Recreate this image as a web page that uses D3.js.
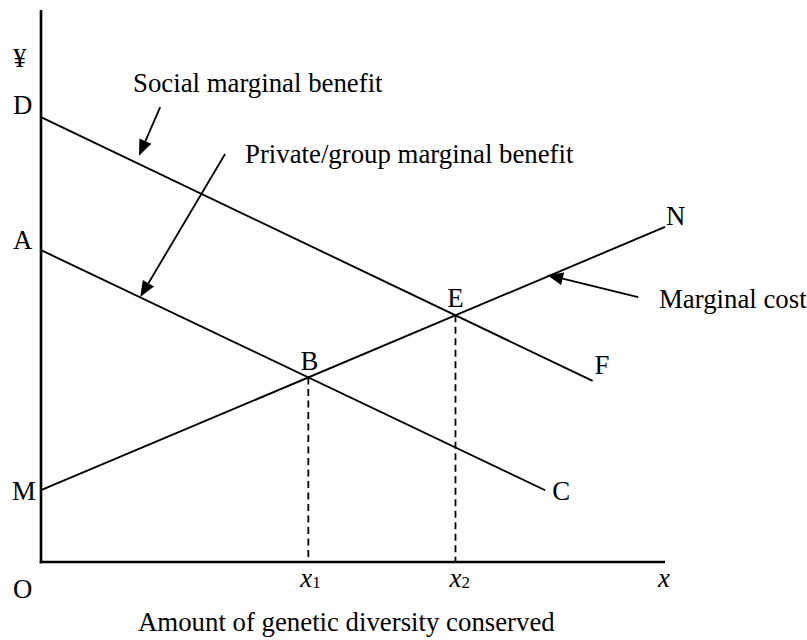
<!DOCTYPE html>
<html>
<head>
<meta charset="utf-8">
<script src="https://cdn.jsdelivr.net/npm/d3@7"></script>
<style>
  body { margin: 0; background: #fff; }
  svg text { font-family: "Liberation Serif", "Times New Roman", serif; fill: #000; }
  .ax { stroke: #000; stroke-width: 2.6; }
  .curve { stroke: #000; stroke-width: 1.9; fill: none; }
  .drop { stroke: #000; stroke-width: 1.8; stroke-dasharray: 7 4.5; }
  .arrow { stroke: #000; stroke-width: 1.8; fill: none; }
</style>
</head>
<body>
<svg class="econ-svg"></svg>
<script>

// curves: [x, y] at start and end, in chart units (0..10 both ways)
const socialMB = [[0, 8.06], [8.84, 3.28]]
const privateMB = [[0, 5.65], [8.08, 1.30]]
const marginalCost = [[0, 1.30], [10, 6.07]]

// pointer arrows: tail -> tip, chart units
const pointerArrows = [
    [[1.91, 8.24], [1.57, 7.36]],
    [[2.95, 7.39], [1.59, 4.80]],
    [[9.57, 4.80], [8.11, 5.20]]
]

const xDomain = [0, 10]
const yDomain = [0, 10]

const draw = () => {

    const width = 807
    const height = 640

    const svg = d3
        .select('.econ-svg')
        .attr('width', width)
        .attr('height', height)

    const x = d3.scaleLinear().domain(xDomain).range([41, 665])
    const y = d3.scaleLinear().domain(yDomain).range([562, 10])

    const line = d3.line().x(d => x(d[0])).y(d => y(d[1]))

    // axes
    svg.append('line').attr('class', 'ax')
        .attr('x1', x(0)).attr('x2', x(0))
        .attr('y1', y(0) + 1.3).attr('y2', y(yDomain[1]))
    svg.append('line').attr('class', 'ax')
        .attr('x1', x(0) - 1.3).attr('x2', x(xDomain[1]))
        .attr('y1', y(0)).attr('y2', y(0))

    // intersection of two straight curves
    const meet = (a, b) => {
        const sa = (a[1][1] - a[0][1]) / (a[1][0] - a[0][0])
        const sb = (b[1][1] - b[0][1]) / (b[1][0] - b[0][0])
        const ia = a[0][1] - sa * a[0][0]
        const ib = b[0][1] - sb * b[0][0]
        const px = (ib - ia) / (sa - sb)
        return [px, ia + sa * px]
    }

    const ptB = meet(privateMB, marginalCost)
    const ptE = meet(socialMB, marginalCost)

    // dashed drop lines
    svg.selectAll('blah')
        .data([ptB, ptE])
        .enter()
        .append('line')
        .attr('class', 'drop')
        .attr('x1', d => x(d[0])).attr('x2', d => x(d[0]))
        .attr('y1', d => y(d[1])).attr('y2', y(0))

    svg.selectAll('blah')
        .data([socialMB, privateMB, marginalCost])
        .enter()
        .append('path')
        .attr('class', 'curve')
        .attr('d', line)

    // arrows with filled heads
    pointerArrows.forEach(a => {
        const [x0, y0] = [x(a[0][0]), y(a[0][1])]
        const [x1, y1] = [x(a[1][0]), y(a[1][1])]
        const ang = Math.atan2(y1 - y0, x1 - x0)
        const len = 16, hw = 6.5
        const bx = x1 - len * Math.cos(ang), by = y1 - len * Math.sin(ang)
        svg.append('line').attr('class', 'arrow')
            .attr('x1', x0).attr('y1', y0).attr('x2', bx).attr('y2', by)
        svg.append('path')
            .attr('d', `M${x1},${y1}L${bx - hw * Math.sin(ang)},${by + hw * Math.cos(ang)}L${bx + hw * Math.sin(ang)},${by - hw * Math.cos(ang)}Z`)
            .attr('fill', '#000')
    })

    const fs = 26.8
    const label = (t, px, py, anchor) => svg.append('text')
        .attr('x', px).attr('y', py)
        .attr('font-size', fs)
        .attr('text-anchor', anchor || 'start')
        .text(t)

    // axis end labels
    label('¥', 13, 67)
    label('D', 13, y(socialMB[0][1]) - 3)
    label('A', 13, y(privateMB[0][1]) - 1)
    label('M', 12, y(marginalCost[0][1]) + 10)
    label('O', 13, 598)

    // curve end labels
    label('N', x(marginalCost[1][0]) + 1, y(marginalCost[1][1]) - 2)
    label('F', x(socialMB[1][0]) + 2, y(socialMB[1][1]) - 7)
    label('C', x(privateMB[1][0]) + 7, y(privateMB[1][1]) + 10)
    label('E', x(ptE[0]), y(ptE[1]) - 8, 'middle')
    label('B', x(ptB[0]) + 1, y(ptB[1]) - 7, 'middle')

    // curve names
    label('Social marginal benefit', 133, 92)
    label('Private/group marginal benefit', 245, 163)
    label('Marginal cost', 659, 308)

    // x axis ticks
    const xTick = (sub, px) => {
        const t = svg.append('text')
            .attr('x', px).attr('y', 587)
            .attr('font-size', fs)
        t.append('tspan').attr('font-style', 'italic').text('x')
        if (sub) t.append('tspan').attr('font-size', 17).attr('dy', 1).text(sub)
        return t
    }
    xTick('1', x(ptB[0]) - 8)
    xTick('2', x(ptE[0]) - 6)
    xTick('', x(xDomain[1]) - 7)

    label('Amount of genetic diversity conserved', 138, 631)

}

draw()
</script>
</body>
</html>
